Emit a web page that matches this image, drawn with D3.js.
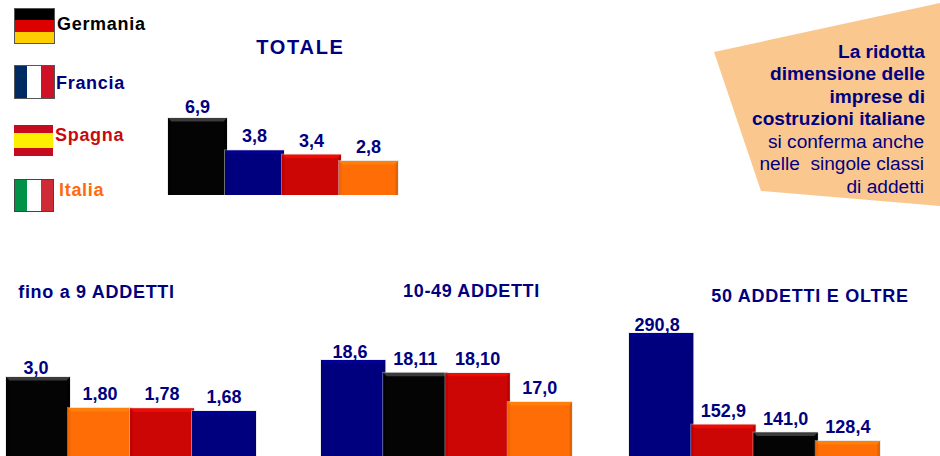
<!DOCTYPE html>
<html><head><meta charset="utf-8">
<script src="https://cdn.jsdelivr.net/npm/d3@7"></script>
<style>html,body{margin:0;padding:0;background:#fff}svg{display:block}text{font-family:"Liberation Sans",Arial,sans-serif}</style>
</head><body><svg id="c" width="940" height="456"></svg>
<script>
const navy="#00007f", red="#cc0605", orange="#ff6e06", black="#040404";
const colors={Germania:black,Francia:navy,Spagna:red,Italia:orange};
const legendNames=["Germania","Francia","Spagna","Italia"];
const legendColors=["#000000","#00007f","#c80a10","#ff6a10"];
const titles=["TOTALE","fino a 9 ADDETTI","10-49 ADDETTI","50 ADDETTI E OLTRE"];
const totaleCats=["Germania","Francia","Spagna","Italia"];
const totaleVals=[6.9,3.8,3.4,2.8];
const totaleLabels=["6,9","3,8","3,4","2,8"];
const finoCats=["Germania","Italia","Spagna","Francia"];
const finoVals=[3.0,1.80,1.78,1.68];
const finoLabels=["3,0","1,80","1,78","1,68"];
const medieCats=["Francia","Germania","Spagna","Italia"];
const medieVals=[18.6,18.11,18.10,17.0];
const medieLabels=["18,6","18,11","18,10","17,0"];
const grandiCats=["Francia","Spagna","Germania","Italia"];
const grandiVals=[290.8,152.9,141.0,128.4];
const grandiLabels=["290,8","152,9","141,0","128,4"];
const noteBold=["La ridotta","dimensione delle","imprese di","costruzioni italiane"];
const noteRegular=["si conferma anche","nelle  singole classi","di addetti"];

const svg=d3.select("#c");
const defs=svg.append("defs");
const f=defs.append("filter").attr("id","soft").attr("x","-10%").attr("y","-10%").attr("width","120%").attr("height","120%");
f.append("feGaussianBlur").attr("stdDeviation",0.7);

function panel(cats,vals,labels,x0,x1,yBase,yDomainMin,yTop,pad,tallGap,tallDx){
  const x=d3.scaleBand().domain(cats).range([x0,x1]).paddingInner(pad);
  const y=d3.scaleLinear().domain([yDomainMin,d3.max(vals)]).range([yBase,yTop]);
  const rows=cats.map((c,i)=>({c,v:vals[i],l:labels[i]}));
  const top=d3.max(vals);
  const g=svg.append("g");
  const b=3.5;
  const bars=g.selectAll("g").data(rows).join("g");
  bars.append("rect").attr("x",d=>x(d.c)-1).attr("y",d=>y(d.v)-1).attr("width",x.bandwidth()+2).attr("height",d=>yBase-y(d.v)+1)
    .attr("fill","#dcdcdc").attr("opacity",.5);
  bars.append("rect").attr("x",d=>x(d.c)).attr("y",d=>y(d.v)).attr("width",x.bandwidth()).attr("height",d=>yBase-y(d.v))
    .attr("fill",d=>colors[d.c]);
  const poly=(pts)=>pts.map(p=>p.join(",")).join(" ");
  bars.append("polygon").attr("points",d=>{const l=x(d.c),r=l+x.bandwidth(),t=y(d.v);return poly([[l,t],[r,t],[r-b,t+b],[l+b,t+b]]);})
    .attr("fill",d=>d.c==="Germania"?"#444444":d3.color(colors[d.c]).brighter(.5).formatHex()).attr("opacity",.85).attr("filter","url(#soft)");
  bars.append("polygon").attr("points",d=>{const l=x(d.c),r=l+x.bandwidth(),t=y(d.v);return poly([[l,t],[l+b-1,t+b],[l+b-1,yBase],[l,yBase]]);})
    .attr("fill",d=>d3.color(colors[d.c]).darker(.3).formatHex()).attr("opacity",.6).attr("filter","url(#soft)");
  bars.append("polygon").attr("points",d=>{const l=x(d.c),r=l+x.bandwidth(),t=y(d.v);return poly([[r,t],[r-b+1,t+b],[r-b+1,yBase],[r,yBase]]);})
    .attr("fill",d=>d3.color(colors[d.c]).darker(.45).formatHex()).attr("opacity",.7).attr("filter","url(#soft)");
  g.selectAll("text").data(rows).join("text").attr("x",d=>x(d.c)+x.bandwidth()/2+(d.v===top?tallDx:0)).attr("y",d=>y(d.v)-(d.v===top?tallGap:8))
    .attr("text-anchor","middle").attr("font-size",18).attr("font-weight","bold").attr("fill","#00007f").text(d=>d.l);
}
panel(totaleCats,totaleVals,totaleLabels,168,398,195,-0.45,118,-0.035,5,0);
panel(finoCats,finoVals,finoLabels,6,256,456,-0.067,377,-0.032,3,-2);
panel(medieCats,medieVals,medieLabels,321,572,456,14.94,360,-0.032,2,-3);
panel(grandiCats,grandiVals,grandiLabels,629,880,456,105.8,333,-0.032,2,-4);

// Titles
const tpos=[[300.5,54,20,1.7],[96.5,298,18,.7],[471.5,297,18,.65],[810,302,18,.75]];
svg.selectAll("text.t").data(titles).join("text").attr("class","t")
  .attr("x",(d,i)=>tpos[i][0]).attr("y",(d,i)=>tpos[i][1]).attr("font-size",(d,i)=>tpos[i][2])
  .attr("letter-spacing",(d,i)=>tpos[i][3]).attr("text-anchor","middle").attr("font-weight","bold").attr("fill","#00007f").text(d=>d);

// Legend
const lx=[57,56,55,59], ly=[30,89,141,196];
svg.selectAll("text.l").data(legendNames).join("text").attr("class","l").attr("x",(d,i)=>lx[i]).attr("y",(d,i)=>ly[i])
  .attr("font-size",18).attr("font-weight","bold").attr("letter-spacing",.7).attr("fill",(d,i)=>legendColors[i]).text(d=>d);
function hflag(x,y,w,hs,cs,stroke){const h=d3.sum(hs);let yy=y;
  hs.forEach((s,i)=>{svg.append("rect").attr("x",x).attr("y",yy).attr("width",w).attr("height",s).attr("fill",cs[i]);yy+=s;});
  if(stroke)svg.append("rect").attr("x",x+.5).attr("y",y+.5).attr("width",w-1).attr("height",h-1).attr("fill","none").attr("stroke",stroke);}
function vflag(x,y,ws,h,cs,stroke){let xx=x;
  ws.forEach((s,i)=>{svg.append("rect").attr("x",xx).attr("y",y).attr("width",s).attr("height",h).attr("fill",cs[i]);xx+=s;});
  svg.append("rect").attr("x",x+.5).attr("y",y+.5).attr("width",d3.sum(ws)-1).attr("height",h-1).attr("fill","none").attr("stroke",stroke);}
hflag(14,8,41,[12,12,12],["#000","#dd0000","#ffce00"],"#555");
vflag(14,65,[13,14,14],34,["#002a62","#fff","#ce1126"],"#555");
hflag(14,125,39,[8,15,8],["#c60b1e","#fcf000","#c60b1e"],null);
vflag(14,179,[13,14,13],33,["#009246","#fff","#ce2b37"],"#444");

// Note
svg.append("polygon").attr("points",[[714,52],[940,3],[940,206],[761,191]].map(p=>p.join(",")).join(" ")).attr("fill","#fac88f");
svg.selectAll("text.b").data(noteBold).join("text").attr("class","b").attr("x",925).attr("y",(d,i)=>58+i*22.4)
  .attr("text-anchor","end").attr("font-size",19.1).attr("font-weight","bold").attr("fill","#00007f").text(d=>d);
svg.selectAll("text.r").data(noteRegular).join("text").attr("class","r").attr("x",924).attr("y",(d,i)=>148+i*22.3)
  .attr("text-anchor","end").attr("font-size",19.1).attr("fill","#00007f").style("white-space","pre").text(d=>d);
</script></body></html>
